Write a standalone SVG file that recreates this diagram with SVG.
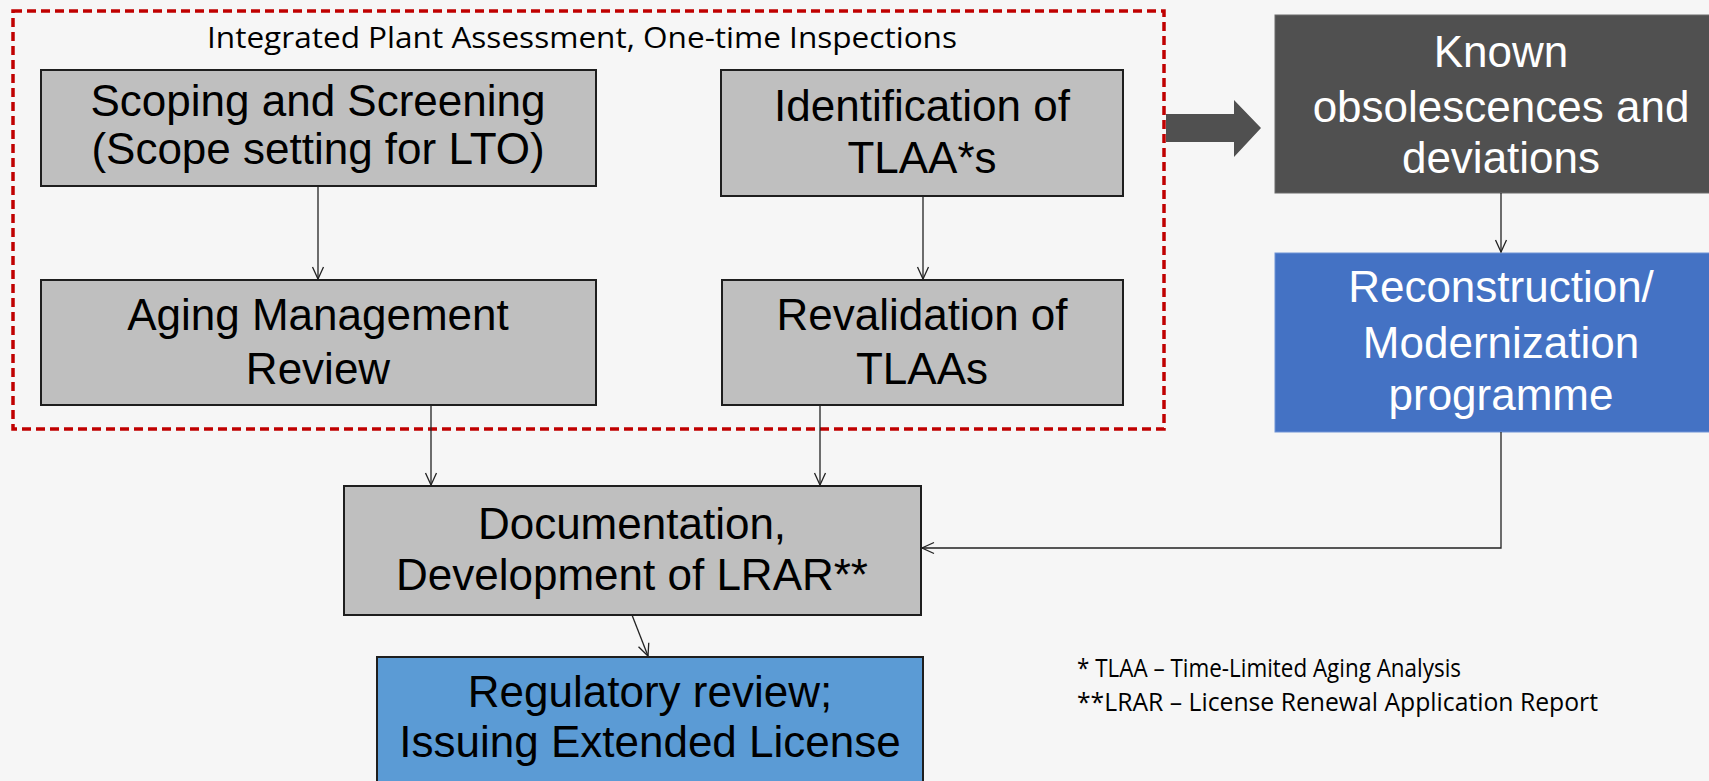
<svg xmlns="http://www.w3.org/2000/svg" width="1709" height="781" viewBox="0 0 1709 781">
<defs>
<style>
.bg{fill:#f6f6f6}
.gray{fill:#bfbfbf;stroke:#1e1e1e;stroke-width:2}
.dark{fill:#505050;stroke:#6a6a6a;stroke-width:1}
.blue{fill:#4472c4;stroke:#6f93d6;stroke-width:1}
.lblue{fill:#5b9bd5;stroke:#1e1e1e;stroke-width:2}
.t{font-family:"Liberation Sans",Arial,sans-serif;font-size:44px;text-anchor:middle;fill:#000}
.w{fill:#fff}
.cal{font-family:"Open Sans","Liberation Sans",sans-serif;fill:#000}
.conn{fill:none;stroke:#222;stroke-width:1.3}
</style>
<marker id="ah" viewBox="0 0 14 14" refX="13" refY="7" markerWidth="14" markerHeight="14" orient="auto" markerUnits="userSpaceOnUse">
<path d="M1,1.5 L13,7 L1,12.5" fill="none" stroke="#222" stroke-width="1.3"/>
</marker>
</defs>
<rect class="bg" x="0" y="0" width="1709" height="781"/>

<g id="group-ipa">
<rect x="13" y="11" width="1151" height="418" fill="none" stroke="#c00000" stroke-width="3.5" stroke-dasharray="9,5"/>
<text class="cal" x="582" y="48" font-size="30" text-anchor="middle" textLength="750" lengthAdjust="spacingAndGlyphs">Integrated Plant Assessment, One-time Inspections</text>
</g>

<g id="scoping">
<rect class="gray" x="41" y="70" width="555" height="116"/>
<text class="t" x="318" y="116">Scoping and Screening</text>
<text class="t" x="318" y="164">(Scope setting for LTO)</text>
</g>

<g id="identification">
<rect class="gray" x="721" y="70" width="402" height="126"/>
<text class="t" x="922" y="121">Identification of</text>
<text class="t" x="922" y="173">TLAA*s</text>
</g>

<g id="aging">
<rect class="gray" x="41" y="280" width="555" height="125"/>
<text class="t" x="318" y="330">Aging Management</text>
<text class="t" x="318" y="384">Review</text>
</g>

<g id="revalidation">
<rect class="gray" x="722" y="280" width="401" height="125"/>
<text class="t" x="922" y="330">Revalidation of</text>
<text class="t" x="922" y="384">TLAAs</text>
</g>

<g id="known">
<rect class="dark" x="1275" y="15" width="450" height="178"/>
<text class="t w" x="1501" y="67">Known</text>
<text class="t w" x="1501" y="122">obsolescences and</text>
<text class="t w" x="1501" y="173">deviations</text>
</g>

<g id="reconstruction">
<rect class="blue" x="1275" y="253" width="450" height="179"/>
<text class="t w" x="1501" y="302">Reconstruction/</text>
<text class="t w" x="1501" y="358">Modernization</text>
<text class="t w" x="1501" y="410">programme</text>
</g>

<g id="documentation">
<rect class="gray" x="344" y="486" width="577" height="129"/>
<text class="t" x="632" y="539">Documentation,</text>
<text class="t" x="632" y="590">Development of LRAR**</text>
</g>

<g id="regulatory">
<rect class="lblue" x="377" y="657" width="546" height="140"/>
<text class="t" x="650" y="707">Regulatory review;</text>
<text class="t" x="650" y="757">Issuing Extended License</text>
</g>

<g id="notes">
<text class="cal" x="1077" y="677" font-size="25" textLength="384" lengthAdjust="spacingAndGlyphs">* TLAA – Time-Limited Aging Analysis</text>
<text class="cal" x="1077" y="711" font-size="25" textLength="521" lengthAdjust="spacingAndGlyphs">**LRAR – License Renewal Application Report</text>
</g>

<g id="connectors">
<line class="conn" x1="318" y1="186" x2="318" y2="279" marker-end="url(#ah)"/>
<line class="conn" x1="923" y1="196" x2="923" y2="279" marker-end="url(#ah)"/>
<line class="conn" x1="431" y1="405" x2="431" y2="485" marker-end="url(#ah)"/>
<line class="conn" x1="820" y1="405" x2="820" y2="485" marker-end="url(#ah)"/>
<line class="conn" x1="1501" y1="193" x2="1501" y2="252" marker-end="url(#ah)"/>
<polyline class="conn" points="1501,432 1501,548 922,548" marker-end="url(#ah)"/>
<line class="conn" x1="632" y1="615" x2="648" y2="656" marker-end="url(#ah)"/>
<polygon points="1166,114 1234,114 1234,100 1261,128 1234,157 1234,142 1166,142" fill="#505050"/>
</g>
</svg>
